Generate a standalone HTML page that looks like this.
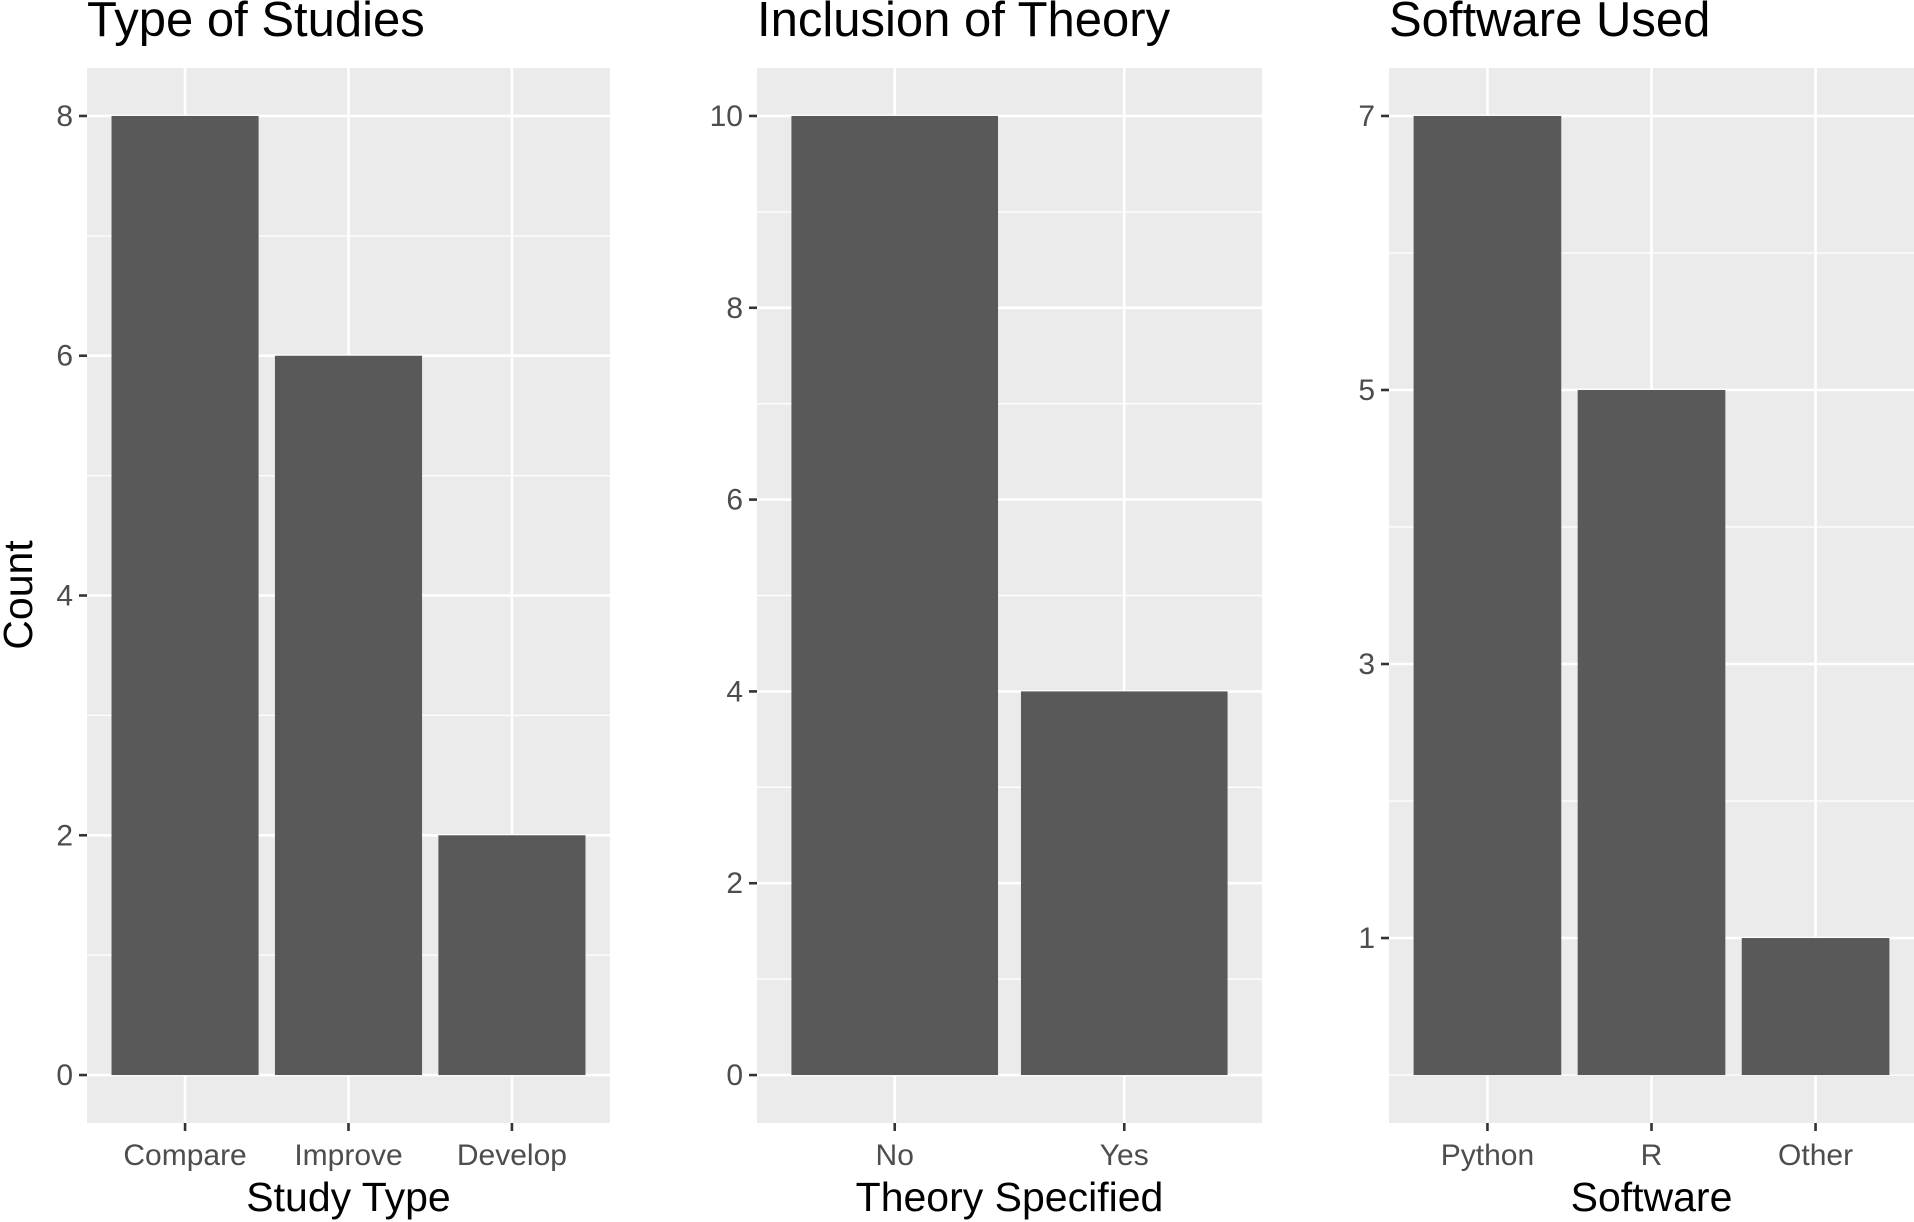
<!DOCTYPE html>
<html><head><meta charset="utf-8"><style>
html,body{margin:0;padding:0;background:#fff;}
svg{display:block;font-family:"Liberation Sans",sans-serif;}
</style></head><body>
<svg id="chart" width="1914" height="1222" viewBox="0 0 1914 1222"></svg>
<script>
const p1Categories=["Compare","Improve","Develop"];
const p1Values=[8,6,2];
const p1Ticks=[0,2,4,6,8];
const p1Minor=[1,3,5,7];
const p2Categories=["No","Yes"];
const p2Values=[10,4];
const p2Ticks=[0,2,4,6,8,10];
const p2Minor=[1,3,5,7,9];
const p3Categories=["Python","R","Other"];
const p3Values=[7,5,1];
const p3Ticks=[1,3,5,7];
const p3Minor=[0,2,4,6];

(function(){
const NS="http://www.w3.org/2000/svg";
const svg=document.getElementById('chart');
function mk(tag,attrs,parent){const e=document.createElementNS(NS,tag);for(const k in attrs)e.setAttribute(k,attrs[k]);(parent||svg).appendChild(e);return e;}

const panels=[
 {title:"Type of Studies",xt:"Study Type",cats:p1Categories,vals:p1Values,ticks:p1Ticks,minor:p1Minor,l:87,r:610,ymin:-0.4,ymax:8.4,barFrac:0.9,key:"type-of-studies"},
 {title:"Inclusion of Theory",xt:"Theory Specified",cats:p2Categories,vals:p2Values,ticks:p2Ticks,minor:p2Minor,l:757,r:1262,ymin:-0.5,ymax:10.5,barFrac:0.9,key:"inclusion-of-theory"},
 {title:"Software Used",xt:"Software",cats:p3Categories,vals:p3Values,ticks:p3Ticks,minor:p3Minor,l:1389,r:1914,ymin:-0.35,ymax:7.35,barFrac:0.9,key:"software-used"}
];
const plotTop=68,plotBot=1123;
panels.forEach(p=>{
  const g=mk('g',{});
  
  
  const y=v=>plotBot-(v-p.ymin)/(p.ymax-p.ymin)*(plotBot-plotTop);
  const n=p.cats.length;
  const band=(p.r-p.l)/(n+0.2);
  const x=i=>p.l+band*(0.6+i);
  const bg=mk('rect',{x:p.l,y:plotTop,width:p.r-p.l,height:plotBot-plotTop,fill:'#ebebeb'},g);
  
  
  p.minor.forEach(v=>{const l=mk('line',{x1:p.l,x2:p.r,y1:y(v),y2:y(v),stroke:'#fff','stroke-width':1.3},g);
    
    });
  p.ticks.forEach(v=>{const l=mk('line',{x1:p.l,x2:p.r,y1:y(v),y2:y(v),stroke:'#fff','stroke-width':2.6},g);
    
    
    const tk=mk('line',{x1:p.l-8,x2:p.l,y1:y(v),y2:y(v),stroke:'#333','stroke-width':2.6},g);
    
    
    const t=mk('text',{x:p.l-14,y:y(v)+10,'text-anchor':'end','font-size':30,fill:'#4d4d4d'},g);
    t.textContent=v;
    
    });
  p.cats.forEach((c,i)=>{
    const l=mk('line',{x1:x(i),x2:x(i),y1:plotTop,y2:plotBot,stroke:'#fff','stroke-width':2.6},g);
    
    
  });
  p.cats.forEach((c,i)=>{
    const w=band*p.barFrac;
    const b=mk('rect',{x:x(i)-w/2,y:y(p.vals[i]),width:w,height:y(0)-y(p.vals[i]),fill:'#595959'},g);
    
    
    const tk=mk('line',{x1:x(i),x2:x(i),y1:plotBot,y2:plotBot+8,stroke:'#333','stroke-width':2.6},g);
    
    
    const t=mk('text',{x:x(i),y:plotBot+42,'text-anchor':'middle','font-size':30,fill:'#4d4d4d'},g);
    t.textContent=c;
    
    
  });
  const tt=mk('text',{x:p.l,y:36,'font-size':49,fill:'#000'},g);
  tt.textContent=p.title;
  
  
  const xt=mk('text',{x:(p.l+p.r)/2,y:1211,'text-anchor':'middle','font-size':41,fill:'#000'},g);
  xt.textContent=p.xt;
  
  
});
const yt=mk('text',{x:0,y:0,transform:'translate(32,595) rotate(-90)','text-anchor':'middle','font-size':41,fill:'#000'});
yt.textContent="Count";


})();
</script>
</body></html>
